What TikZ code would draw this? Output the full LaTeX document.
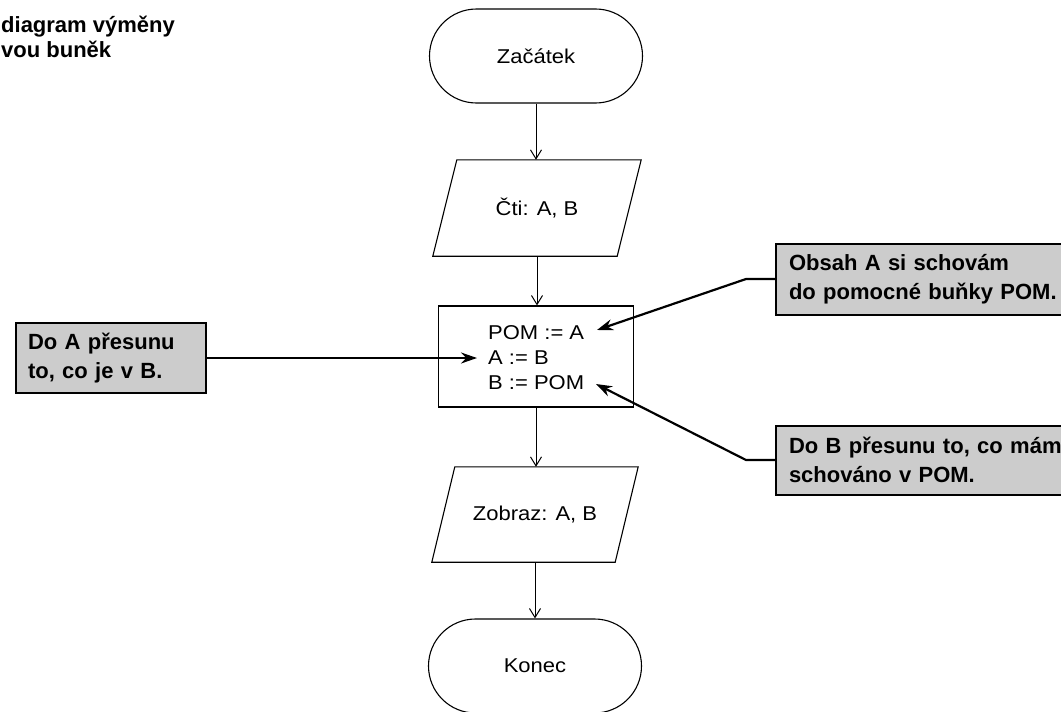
\documentclass[tikz,border=0pt]{standalone}
\usepackage{fontspec}
\setmainfont{Liberation Sans}
\newfontfamily\flowfont[FakeStretch=1.1]{Liberation Sans}
\usetikzlibrary{arrows.meta,calc}

\begin{document}
\begin{tikzpicture}[x=1pt,y=-1pt,
  flowtext/.style={font=\flowfont\fontsize{20}{25}\selectfont},
  terminal/.style={draw, line width=1.1pt, rounded corners=47pt, minimum width=213pt, minimum height=94pt, flowtext},
  ioframe/.style={minimum width=208pt, minimum height=96pt, inner sep=0pt, flowtext},
  ioline/.style={line width=1.1pt},
  procbox/.style={draw, line width=1.1pt, minimum width=195pt, minimum height=101pt},
  flowarrow/.style={line width=1pt, -{Straight Barb[length=9pt,width=11pt]}},
  callout/.style={draw, line width=2pt, fill=black!20, font=\bfseries\fontsize{22}{29}\selectfont, align=left, anchor=west},
  callarrow/.style={line width=2.2pt, -{Stealth[length=16pt,width=11pt]}},
  titletext/.style={font=\bfseries\fontsize{22}{25}\selectfont, align=left, inner sep=0pt, anchor=north west}
]
\useasboundingbox (0,0) rectangle (1061,712);
\clip (0,0) rectangle (1061,712);

% title (cut off in the original)
\node[titletext] (title) at (1,16) {diagram výměny\\vou buněk};

% flowchart
\node[terminal] (start) at (536,56) {Začátek};

\node[ioframe] (read) at (537,208) {Čti: A, B};
\draw[ioline] ($(read.north west)+(24,0)$) -- (read.north east) -- ($(read.south east)+(-24,0)$) -- (read.south west) -- cycle;

\node[procbox] (proc) at (536,356.5) {};
\node[flowtext, align=left, anchor=west, inner sep=0pt] (proctext) at (488,358) {POM := A\\A := B\\B := POM};

\node[ioframe, minimum width=206pt, minimum height=95pt] (show) at (535,514.5) {Zobraz: A, B};
\draw[ioline] ($(show.north west)+(23,0)$) -- (show.north east) -- ($(show.south east)+(-23,0)$) -- (show.south west) -- cycle;

\node[terminal] (stop) at (535,666) {Konec};

\draw[flowarrow] (start.south) -- (start.south |- read.north);
\draw[flowarrow] (read.south) -- (read.south |- proc.north);
\draw[flowarrow] (proc.south) -- (proc.south |- show.north);
\draw[flowarrow] (show.south) -- (show.south |- stop.north);

% callouts
\node[callout, text width=166pt, inner xsep=12pt, minimum height=70pt] (calL) at (15,358) {Do A přesunu\\to, co je v B.};
\node[callout, text width=300pt, inner xsep=13pt, minimum height=71pt] (calR1) at (775,279) {Obsah A si schovám\\do pomocné buňky POM.};
\node[callout, text width=300pt, inner xsep=13pt, minimum height=69pt] (calR2) at (775,460) {Do B přesunu to, co mám\\schováno v POM.};

\coordinate (tipA) at (597,330);
\coordinate (tipB) at (477,358);
\coordinate (tipC) at (596,384);

\draw[callarrow] (calR1.west) -- ++(-29,0) -- (tipA);
\draw[callarrow] (calL.east) -- (tipB);
\draw[callarrow] (calR2.west) -- ++(-29,0) -- (tipC);
\end{tikzpicture}
\end{document}
